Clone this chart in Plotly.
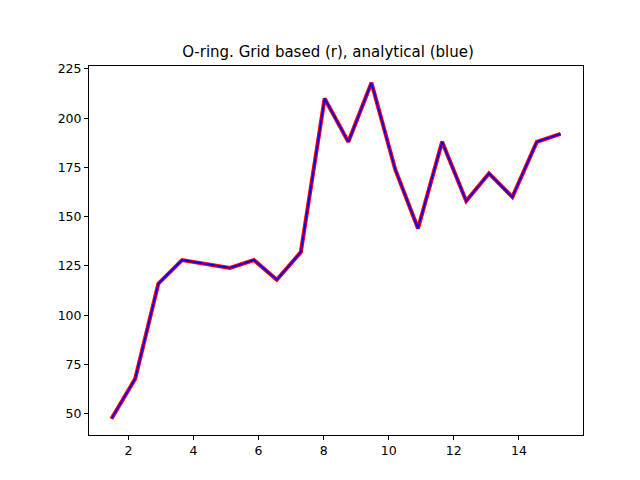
import plotly.graph_objects as go

x = [1.48, 2.21, 2.92, 3.65, 5.12, 5.86, 6.56, 7.3, 8.03, 8.76, 9.47, 10.2, 10.9, 11.64, 12.38, 13.08, 13.8, 14.55, 15.28]
y = [47.5, 67.8, 116, 128, 124, 128, 118, 132, 210, 188, 218, 174, 144, 188, 158, 172, 160, 188, 192]

fig = go.Figure()
fig.add_trace(go.Scatter(x=x, y=y, mode="lines", line=dict(color="red", width=4)))
fig.add_trace(go.Scatter(x=x, y=y, mode="lines", line=dict(color="blue", width=1.8)))
ax = dict(showgrid=False, zeroline=False, showline=True, linecolor="black", mirror=True,
          ticks="outside", ticklen=4, tickcolor="black", automargin=False,
          tickfont=dict(size=12.5, color="black"))
fig.update_layout(
    width=640, height=480, showlegend=False, plot_bgcolor="white", paper_bgcolor="white",
    margin=dict(l=81, r=65, t=58, b=53),
    font=dict(family="DejaVu Sans"),
    title=dict(text="O-ring. Grid based (r), analytical (blue)", x=0.5, xanchor="center",
               y=1 - 44/480, yanchor="middle", font=dict(size=15, color="black")),
    xaxis=dict(ax, range=[0.79, 15.97], tickvals=[2, 4, 6, 8, 10, 12, 14]),
    yaxis=dict(ax, range=[39.2, 226.5], tickvals=[50, 75, 100, 125, 150, 175, 200, 225]),
)
fig.write_html("out.html")
